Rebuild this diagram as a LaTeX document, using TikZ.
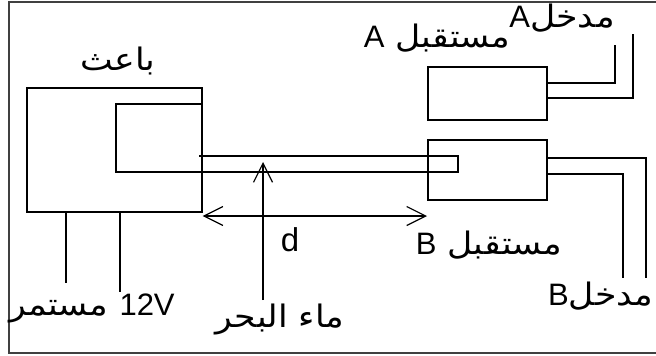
\documentclass[tikz,border=0pt]{standalone}
\usepackage{fontspec}
\setmainfont{Liberation Sans}
\newfontfamily\arabicfont[Script=Arabic,FakeStretch=1.12]{DejaVu Sans}
\newfontfamily\latinfont{Liberation Sans}
\TeXXeTstate=1
\usetikzlibrary{arrows.meta,calc}

\begin{document}
\begin{tikzpicture}[x=1pt,y=-1pt,
  wire/.style={line width=1.2pt},
  unit/.style={draw,line width=1.2pt,inner sep=0pt},
  lbl/.style={inner sep=0pt,font=\fontsize{33}{35}\selectfont},
  arlbl/.style={inner sep=0pt,font=\arabicfont\fontsize{31}{35}\selectfont},
  barb/.style={-{Straight Barb[length=19pt,width=19pt,line width=1.2pt]}},
  dbarb/.style={{Straight Barb[length=19pt,width=19pt,line width=1.2pt]}-{Straight Barb[length=19pt,width=19pt,line width=1.2pt]}}]

\useasboundingbox (0,0) rectangle (656,356);
% outer frame, its right side runs off the page
\begin{scope}
\clip (0,0) rectangle (656,356);
\draw[line width=1.6pt,black!75] (9,2) rectangle (720,353);
\end{scope}

% transmitter and the two receivers
\node[unit,minimum width=175pt,minimum height=124pt] (tx) at (114.5,150) {};
\node[unit,minimum width=119pt,minimum height=53pt] (rxA) at (487.5,93.5) {};
\node[unit,minimum width=119pt,minimum height=60pt] (rxB) at (487.5,170) {};

% inner loop of the transmitter and the cable into receiver B
\coordinate (loopTop) at (tx.east |- 0,104);
\coordinate (cabEnd) at (458,164);
\draw[wire] (loopTop) -- (116,104) -- (116,172) -- (cabEnd |- 0,172) -- (cabEnd |- 0,156) -- (199,156);

% output wires of receiver A
\draw[wire] (rxA.east |- 0,83) -- (615,83) -- (615,45);
\draw[wire] (rxA.east |- 0,98) -- (633,98) -- (633,34);

% output wires of receiver B
\draw[wire] (rxB.east |- 0,158) -- (646,158) -- (646,278);
\draw[wire] (rxB.east |- 0,174) -- (623,174) -- (623,278);

% 12V supply leads
\draw[wire] (tx.south -| 66,0) -- (66,283);
\draw[wire] (tx.south -| 120,0) -- (120,292);

% distance d and the sea-water pointer
\coordinate (dL) at (tx.east |- 0,216);
\coordinate (dR) at (427,216);
\draw[wire,dbarb] (dL) -- (dR);
\coordinate (seaFoot) at (263,300);
\coordinate (seaTip) at (263,162);
\draw[wire,barb] (seaFoot) -- (seaTip);

% labels
\node[arlbl] (ltx) at (118,61) {\beginR باعث\endR};
\node[arlbl] (lrxA) at (437,38) {\beginR مستقبل {\latinfont A}\endR};
\node[arlbl] (linA) at (562,18) {\beginR مدخل\beginL{\latinfont A}\endL\endR};
\node[arlbl] (lrxB) at (489,245) {\beginR مستقبل {\latinfont B}\endR};
\node[arlbl,anchor=west] (linB) at (548,296) {\beginR مدخل\beginL{\latinfont B}\endL\endR};
\node[lbl] (ld) at (290,240) {d};
\node[arlbl,anchor=west] (lpow) at (9,308) {\beginR مستمر\endR\ {\latinfont 12V}};
\node[arlbl] (lsea) at (280,320) {\beginR ماء البحر\endR};
\end{tikzpicture}
\end{document}
